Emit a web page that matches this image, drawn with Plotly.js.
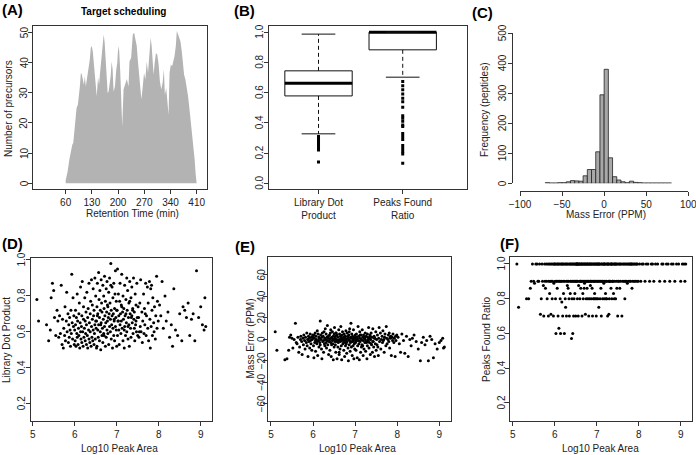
<!DOCTYPE html>
<html><head><meta charset="utf-8">
<script src="https://cdn.plot.ly/plotly-3.0.1.min.js"></script>
<style>html,body{margin:0;padding:0;background:#fff}#chart{width:696px;height:455px}</style>
</head><body><div id="chart"></div>
<script>
// ---------- (A) Target scheduling ----------
const rtMin = [60,62.6,65.2,69.6,73.2,77.6,80.2,82.9,86.4,89.1,92.6,95.3,97.9,100.6,103.2,105.9,108.5,111.2,113.8,117.4,120.9,124.4,127.1,129.7,132.4,135,137.7,140.3,143,146.5,149.2,151.8,154.5,157.1,159.8,161.6,164.2,166.9,169.5,172.2,174.8,177.5,180.1,182.8,185.4,188.1,191.6,195.2,197.8,200.5,203.1,205.8,208.4,211.1,214.6,219,223.4,227.9,230.5,234.9,239.3,242.9,246.4,249.9,252.6,255.3,258.8,262.3,265.9,269.4,272.9,276.5,280,283.5,287.1,289.7,292.4,295,297.7,301.2,304.8,308.3,311.8,315.4,318.9,322.4,325.1,328.6,332.2,334.8,337.5,341,344.5,347.2,350.7,354.3,356.9,360.5,363.1,366.6,370.2,372.8,376.4,379.9,383.4,387,390.5,394,397.6,401.1,404.7,407.3,410];
const precursors = [1,2.2,3.9,7.7,10.5,12.7,13.3,16.6,19.9,24.9,26,28.8,32,36.5,36,34.3,32.6,35.4,32,35,37.6,40.9,44.8,45.4,43.7,39.8,37,32.6,28.8,35,32.6,36.5,40.3,43.7,47.6,49.2,46.5,39.8,32,29.9,30.4,33.2,35.4,40.3,37.6,30.4,32,37.6,39.8,45.4,43.7,37,29.9,18.8,31,32.6,34.5,32,40.3,41.5,49.2,49.8,47.6,45.4,41,37.6,33.2,27.7,32,36.5,34.3,40.3,36.5,42,48.2,45.4,37.6,35.9,39.8,43.1,42.5,39.3,33.7,31,33.2,37.6,29.3,31.5,26.5,22.7,36.5,39.3,38.7,40.3,42,45.4,50.4,49.2,48.2,47,43.7,39.8,35.9,34.3,32,28.8,24.9,21,16.6,12.7,7.7,3,0];
const rtTicks = [60,130,200,270,340,410];
const countTicksA = [0,10,20,30,40,50];

// ---------- (B) Boxplots ----------
const boxNames = ["Library Dot<br>Product","Peaks Found<br>Ratio"];
const boxPos = [1,2];
const boxQ1 = [0.578,0.883];
const boxMed = [0.662,1.0];
const boxQ3 = [0.744,1.0];
const boxLo = [0.327,0.702];
const boxHi = [0.987,1.0];
const outLibrary = [0.31,0.30,0.29,0.28,0.27,0.26,0.25,0.24,0.23,0.22,0.14];
const outPeaks = [0.673,0.645,0.618,0.59,0.563,0.54,0.503,0.446,0.43,0.41,0.386,0.375,0.33,0.31,0.29,0.25,0.23,0.21,0.194,0.132];
const ratioTicksB = [0,0.2,0.4,0.6,0.8,1];

// ---------- (C) Mass error histogram ----------
const binLeft = [-70,-65,-60,-55,-50,-45,-40,-35,-30,-25,-20,-15,-10,-5,0,5,10,15,20,25,30,35,40,45,50,55,60,65,70,75];
const binCount = [2,1,1,2,2,5,9,8,7,25,46,46,105,295,380,85,22,11,5,2,7,3,2,1,1,1,1,1,1,1];
const ppmTicksC = [-100,-50,0,50,100];
const freqTicksC = [0,100,200,300,400,500];

// ---------- (D)(E)(F) per-peptide values ----------
const areaTicks = [5,6,7,8,9];
const dotTicks = [0.2,0.4,0.6,0.8,1];
const errTicks = [-60,-40,-20,0,20,40,60];
const ratioTicksF = [0.2,0.4,0.6,0.8,1];
const logArea = [
5.10,5.14,5.33,5.38,5.42,5.44,5.47,5.50,5.52,5.55,5.58,5.60,
5.62,5.64,5.66,5.68,5.70,5.71,5.73,5.74,5.76,5.77,
5.78,5.80,5.81,5.82,5.84,5.85,5.86,5.87,5.88,5.89,
5.90,5.91,5.92,5.93,5.94,5.95,5.96,5.97,5.98,5.99,
6.00,6.01,6.02,6.02,6.03,6.04,6.05,6.06,6.06,6.07,
6.08,6.09,6.10,6.10,6.11,6.12,6.13,6.14,6.14,6.15,
6.16,6.17,6.17,6.18,6.19,6.20,6.21,6.21,6.22,6.23,
6.24,6.25,6.25,6.26,6.27,6.28,6.28,6.29,6.30,6.31,
6.31,6.32,6.33,6.34,6.34,6.35,6.36,6.37,6.37,6.38,
6.39,6.40,6.40,6.41,6.42,6.42,6.43,6.44,6.44,6.45,
6.46,6.46,6.47,6.48,6.48,6.49,6.50,6.50,6.51,6.52,
6.52,6.53,6.53,6.54,6.55,6.55,6.56,6.57,6.57,6.58,
6.59,6.59,6.60,6.61,6.61,6.62,6.63,6.63,6.64,6.65,
6.65,6.66,6.67,6.67,6.68,6.69,6.69,6.70,6.71,6.71,
6.72,6.73,6.73,6.74,6.75,6.75,6.76,6.77,6.77,6.78,
6.79,6.79,6.80,6.81,6.81,6.82,6.83,6.83,6.84,6.85,
6.85,6.86,6.87,6.87,6.88,6.89,6.89,6.90,6.91,6.91,
6.92,6.93,6.93,6.94,6.95,6.95,6.96,6.97,6.97,6.98,
6.99,6.99,7.00,7.00,6.54,6.62,6.70,6.78,6.86,6.94,
7.01,7.02,7.02,7.03,7.04,7.05,7.05,7.06,7.07,7.08,
7.08,7.09,7.10,7.11,7.11,7.12,7.13,7.14,7.15,7.15,
7.16,7.17,7.18,7.19,7.19,7.20,7.21,7.22,7.23,7.24,
7.24,7.25,7.26,7.27,7.28,7.29,7.29,7.30,7.31,7.32,
7.33,7.34,7.34,7.35,7.36,7.37,7.38,7.39,7.40,7.41,
7.42,7.43,7.44,7.45,7.46,7.47,7.48,7.49,7.50,7.51,
7.04,7.12,7.18,7.22,7.27,7.31,7.36,7.42,7.46,7.38,
7.52,7.53,7.55,7.56,7.57,7.58,7.60,7.61,7.62,7.64,
7.65,7.66,7.67,7.69,7.70,7.71,7.73,7.74,7.75,7.76,
7.78,7.79,7.80,7.81,7.82,7.84,7.85,7.86,7.88,7.89,
7.90,7.92,7.93,7.95,7.96,7.97,7.99,7.54,7.68,7.83,
8.02,8.05,8.08,8.11,8.15,8.18,8.22,8.26,8.30,8.33,
8.36,8.40,8.45,8.50,8.55,8.58,8.62,8.66,8.70,8.74,
8.78,8.82,8.86,8.90,8.95,9.00,9.04,9.08,9.10,9.12];
const dotProduct = [
0.78,0.66,0.64,0.55,0.61,0.79,0.87,0.83,0.68,0.58,0.72,0.66,
0.57,0.69,0.59,0.86,0.53,0.67,0.51,0.62,0.58,0.74,
0.55,0.66,0.82,0.60,0.70,0.54,0.64,0.57,0.68,0.61,
0.52,0.72,0.59,0.92,0.65,0.56,0.79,0.63,0.69,0.53,
0.61,0.55,0.72,0.64,0.52,0.68,0.59,0.81,0.57,0.66,
0.53,0.62,0.70,0.58,0.76,0.51,0.65,0.60,0.85,0.56,
0.63,0.54,0.69,0.88,0.60,0.52,0.67,0.74,0.57,0.62,
0.79,0.55,0.66,0.59,0.71,0.53,0.64,0.82,0.58,0.68,
0.51,0.73,0.61,0.56,0.87,0.65,0.54,0.70,0.60,0.77,
0.52,0.63,0.89,0.57,0.67,0.75,0.55,0.61,0.84,0.69,
0.53,0.72,0.59,0.64,0.90,0.56,0.66,0.80,0.62,0.51,
0.66,0.74,0.52,0.87,0.61,0.70,0.57,0.93,0.64,0.78,
0.55,0.68,0.83,0.60,0.72,0.50,0.89,0.65,0.76,0.58,
0.71,0.62,0.86,0.54,0.67,0.80,0.59,0.73,0.91,0.63,
0.69,0.52,0.77,0.65,0.84,0.57,0.71,0.61,0.88,0.66,
0.74,0.59,0.68,0.82,0.53,0.70,0.63,0.90,0.76,0.60,
0.67,0.98,0.56,0.72,0.64,0.85,0.69,0.51,0.79,0.62,
0.70,0.58,0.87,0.66,0.73,0.55,0.81,0.63,0.94,0.68,
0.61,0.77,0.52,0.72,0.69,0.64,0.58,0.75,0.86,0.67,
0.72,0.58,0.95,0.66,0.81,0.61,0.69,0.53,0.77,0.64,
0.87,0.70,0.59,0.75,0.66,0.92,0.62,0.71,0.55,0.80,
0.67,0.73,0.51,0.86,0.63,0.69,0.58,0.78,0.65,0.90,
0.60,0.72,0.83,0.56,0.68,0.64,0.76,0.52,0.88,0.70,
0.62,0.79,0.57,0.68,0.85,0.65,0.73,0.59,0.90,0.67,
0.71,0.55,0.81,0.64,0.75,0.60,0.87,0.68,0.58,0.74,
0.66,0.74,0.61,0.70,0.63,0.77,0.69,0.62,0.66,0.72,
0.68,0.57,0.76,0.63,0.89,0.60,0.71,0.54,0.66,0.81,
0.59,0.73,0.64,0.87,0.58,0.69,0.85,0.62,0.76,0.55,
0.88,0.67,0.51,0.84,0.63,0.72,0.58,0.79,0.65,0.60,
0.74,0.56,0.69,0.91,0.62,0.77,0.66,0.60,0.70,0.86,
0.75,0.69,0.88,0.62,0.80,0.66,0.71,0.57,0.64,0.52,
0.84,0.61,0.58,0.70,0.55,0.74,0.72,0.68,0.76,0.58,
0.67,0.70,0.55,0.94,0.68,0.74,0.64,0.61,0.79,0.63];
const massErrorPpm = [
7,-10,-19,-18,-10,2,4,1,-8,0,15,-3,
-4,2,-12,-7,0,3,-2,-14,1,-5,
4,-1,-9,2,-3,6,-6,0,-16,3,
-2,1,-8,5,-1,-4,2,-10,0,4,
2,-6,4,-17,1,-3,6,-1,-11,3,
0,-4,8,-2,-15,5,-1,2,-7,1,
-3,17,-5,4,0,-9,2,-18,6,-2,
3,-1,-12,7,-4,1,-6,10,0,-3,
5,-8,2,-1,13,-5,3,-14,1,-2,
4,-10,0,6,-3,9,-16,2,-5,1,
-1,7,-4,3,-19,0,5,-7,11,-2,
1,-5,3,-12,0,6,-2,-18,4,-1,
-7,2,-3,9,-1,-14,5,0,-9,3,
-2,12,-6,1,-19,4,-1,7,-4,0,
2,-10,-3,5,-1,-16,3,-6,1,8,
-4,0,-13,6,-2,3,-8,1,-20,4,
0,-5,10,-1,-11,2,-3,15,-7,1,
5,-2,-15,3,-6,0,9,-18,2,-4,
1,-9,4,-1,6,-12,0,-3,7,-2,
-3,2,-10,5,0,-17,1,-6,12,-1,
3,-4,-19,1,7,-2,-12,4,-7,0,
-5,9,2,-15,-1,4,-9,1,-3,6,
0,-11,3,-2,-18,5,-6,2,-1,11,
-8,1,-3,4,-14,0,6,-5,2,-12,
10,-2,-7,3,-16,1,-4,7,-10,0,
-1,4,-6,2,-3,0,3,-2,1,-4,
-5,4,-15,1,11,-2,6,-9,0,3,
-3,8,-1,-12,2,5,-6,12,1,-4,
0,4,-2,6,-8,1,3,-15,2,-1,
5,-3,1,-16,3,-1,4,-7,0,2,
2,-4,-12,5,-1,-13,3,-16,0,-6,
1,4,-2,-9,-20,-3,2,-5,-1,-20,
3,0,-17,-4,-9,-3,-1,1,-8,-7];
const peaksFound = [
1,0.75,0.8,0.8,0.86,0.9,1,0.9,0.889,1,1,0.9,
0.9,1,0.71,0.8,1,0.9,0.875,0.7,1,0.9,
0.86,1,0.9,0.8,1,0.7,0.9,1,0.83,0.9,
1,0.71,0.9,1,0.8,0.9,1,0.7,0.889,1,
1,0.9,0.8,1,0.6,0.9,1,0.86,0.9,1,
0.7,1,0.9,0.63,1,0.9,0.8,1,0.6,0.9,
1,0.78,0.9,1,0.7,1,0.9,0.83,1,0.6,
0.9,1,0.8,0.75,1,0.9,0.7,1,0.875,0.9,
1,0.86,0.9,1,0.8,0.7,1,0.9,0.83,1,
0.9,1,0.57,0.8,1,0.9,0.6,1,0.9,0.7,
1,0.8,0.9,1,0.83,0.9,1,0.7,0.9,1,
1,0.9,1,0.8,1,0.9,0.7,1,0.875,1,
0.9,1,0.8,1,0.9,0.86,1,0.9,1,0.7,
1,0.9,0.83,1,0.8,1,0.9,1,0.889,0.9,
1,0.71,1,0.9,0.8,1,0.9,0.86,1,0.9,
1,0.8,0.9,1,0.7,0.9,1,0.8,1,0.875,
0.9,1,0.8,1,0.9,0.86,1,0.7,0.9,1,
0.8,1,0.9,1,0.83,0.9,1,0.8,0.9,1,
0.7,1,0.9,0.8,1,0.9,0.86,1,0.9,0.8,
1,0.9,1,0.8,0.9,1,0.75,1,0.9,0.8,
1,0.9,0.86,1,0.7,1,0.9,0.8,1,0.9,
1,0.889,0.8,1,0.9,1,0.83,0.9,1,0.8,
0.9,1,0.7,1,0.9,0.71,1,0.8,0.9,1,
0.9,1,0.86,1,0.8,0.9,1,0.9,0.83,1,
1,0.9,1,0.8,1,0.9,0.86,1,0.7,0.9,
1,0.9,1,0.8,1,0.9,1,0.8,1,0.9,
1,0.9,0.86,1,0.9,1,0.7,1,0.9,1,
0.9,1,0.8,1,0.9,1,0.889,1,0.9,1,
1,0.9,1,0.9,1,0.86,1,0.9,1,0.9,
1,0.9,1,1,0.9,1,0.9,1,0.9,1,
1,0.9,1,1,0.9,1,1,0.9,1,1,
0.9,1,1,0.9,1,1,0.9,1,1,0.9,
1,1,0.9,1,1,0.9,1,1,0.9,1];

// ---------- layout helpers (pixel -> paper) ----------
const W = 696, H = 455;
const fx = v => v / W;
const fy = v => 1 - v / H;
const FONT = "Liberation Sans, Arial, Helvetica, sans-serif";
const INK = "#222";

function axis(o) {
  return Object.assign({
    showgrid: false, zeroline: false, showline: true, linecolor: "#333", linewidth: 1,
    mirror: true, ticks: "outside", ticklen: 4, tickwidth: 1, tickcolor: "#333",
    tickfont: {family: FONT, size: 10, color: INK}, fixedrange: true, ticklabeloverflow: "allow"
  }, o);
}
// y axes: ticks from the library, R-style rotated labels placed as annotations below
function yaxisR(o) { return axis(Object.assign({showticklabels: false}, o)); }

const traces = [];

// (A)
traces.push({type: "scatter", mode: "lines", x: rtMin, y: precursors, fill: "tozeroy",
  fillcolor: "#b3b3b3", line: {width: 0, color: "#b3b3b3"}, xaxis: "x", yaxis: "y", hoverinfo: "skip"});

// (B) R-style boxplots built from the summary arrays
const BH = 0.4, CH = 0.2;
boxPos.forEach((c, i) => {
  traces.push({type: "scatter", mode: "lines", xaxis: "x2", yaxis: "y2",
    x: [c - BH, c + BH, c + BH, c - BH, c - BH], y: [boxQ1[i], boxQ1[i], boxQ3[i], boxQ3[i], boxQ1[i]],
    fill: "toself", fillcolor: "#fff", line: {color: "#111", width: 1}, hoverinfo: "skip"});
  traces.push({type: "scatter", mode: "lines", xaxis: "x2", yaxis: "y2",
    x: [c - BH, c + BH], y: [boxMed[i], boxMed[i]], line: {color: "#000", width: 3}, hoverinfo: "skip"});
  traces.push({type: "scatter", mode: "lines", xaxis: "x2", yaxis: "y2",
    x: [c, c, null, c, c], y: [boxQ3[i], boxHi[i], null, boxQ1[i], boxLo[i]],
    line: {color: "#111", width: 1, dash: "4px,3px"}, hoverinfo: "skip"});
  traces.push({type: "scatter", mode: "lines", xaxis: "x2", yaxis: "y2",
    x: [c - CH, c + CH, null, c - CH, c + CH], y: [boxHi[i], boxHi[i], null, boxLo[i], boxLo[i]],
    line: {color: "#111", width: 1}, hoverinfo: "skip"});
});
traces.push({type: "scatter", mode: "markers", xaxis: "x2", yaxis: "y2",
  x: outLibrary.map(() => boxPos[0]).concat(outPeaks.map(() => boxPos[1])),
  y: outLibrary.concat(outPeaks), marker: {color: "#000", size: 3, symbol: "square"}, hoverinfo: "skip"});

// (C)
traces.push({type: "bar", xaxis: "x3", yaxis: "y3", x: binLeft.map(b => b + 2.5), y: binCount, width: 5,
  marker: {color: "#a8a8a8", line: {color: "#222", width: 0.8}}, hoverinfo: "skip"});

// (D)(E)(F)
const mk = {color: "#000", size: 3};
traces.push({type: "scatter", mode: "markers", xaxis: "x4", yaxis: "y4", x: logArea, y: dotProduct, marker: mk, hoverinfo: "skip"});
traces.push({type: "scatter", mode: "markers", xaxis: "x5", yaxis: "y5", x: logArea, y: massErrorPpm, marker: mk, hoverinfo: "skip"});
traces.push({type: "scatter", mode: "markers", xaxis: "x6", yaxis: "y6", x: logArea, y: peaksFound, marker: mk, hoverinfo: "skip"});

const layout = {
  width: W, height: H, margin: {l: 0, r: 0, t: 0, b: 0}, showlegend: false,
  paper_bgcolor: "#fff", plot_bgcolor: "#fff", font: {family: FONT, size: 10, color: INK},
  // A
  xaxis: axis({domain: [fx(33.3), fx(207.3)], range: [-26.5, 438.4], tickvals: rtTicks, anchor: "y"}),
  yaxis: yaxisR({domain: [fy(189.3), fy(25.5)], range: [-2, 52.2], tickvals: countTicksA, anchor: "x"}),
  // B
  xaxis2: axis({domain: [fx(269), fx(467.3)], range: [0.412, 2.767], tickvals: boxPos, ticktext: boxNames, anchor: "y2"}),
  yaxis2: yaxisR({domain: [fy(189.3), fy(25.5)], range: [-0.04, 1.044], tickvals: ratioTicksB, anchor: "x2"}),
  // C
  xaxis3: axis({domain: [fx(520), fx(688.3)], range: [-100, 100], tickvals: ppmTicksC, anchor: "free", position: fy(190.7), mirror: false}),
  yaxis3: yaxisR({domain: [fy(183.3), fy(33.3)], range: [0, 500], tickvals: freqTicksC, anchor: "free", position: fx(511.7), mirror: false}),
  // D
  xaxis4: axis({domain: [fx(31), fx(212.3)], range: [4.96, 9.276], tickvals: areaTicks, anchor: "y4"}),
  yaxis4: yaxisR({domain: [fy(421.3), fy(258.3)], range: [0.1017, 1.0094], tickvals: dotTicks, anchor: "x4"}),
  // E
  xaxis5: axis({domain: [fx(268.3), fx(450.7)], range: [4.936, 9.271], tickvals: areaTicks, anchor: "y5"}),
  yaxis5: yaxisR({domain: [fy(420.5), fy(257.3)], range: [-75.5, 76.4], tickvals: errTicks, anchor: "x5"}),
  // F
  xaxis6: axis({domain: [fx(510), fx(692.3)], range: [4.936, 9.276], tickvals: areaTicks, anchor: "y6"}),
  yaxis6: yaxisR({domain: [fy(421.3), fy(257.3)], range: [0.094, 1.038], tickvals: ratioTicksF, anchor: "x6"}),
  annotations: []
};

function note(text, x, y, opt) {
  layout.annotations.push(Object.assign({text: text, x: fx(x), y: fy(y), xref: "paper", yref: "paper",
    showarrow: false, xanchor: "center", yanchor: "middle", font: {family: FONT, size: 10, color: INK}}, opt || {}));
}
// rotated y tick labels, positioned on the axis' own data scale
function yLabels(yref, vals, fmt, xPx) {
  vals.forEach(v => layout.annotations.push({text: fmt(v), xref: "paper", x: fx(xPx), yref: yref, y: v,
    showarrow: false, xanchor: "center", yanchor: "middle", textangle: -90,
    font: {family: FONT, size: 10, color: INK}}));
}
const f0 = v => String(v).replace("-", "\u2212");
const f1 = v => v.toFixed(1);
yLabels("y", countTicksA, f0, 24);
yLabels("y2", ratioTicksB, f1, 259.5);
yLabels("y3", freqTicksC, f0, 502);
yLabels("y4", dotTicks, f1, 21.5);
yLabels("y5", errTicks, f0, 261.5);
yLabels("y6", ratioTicksF, f1, 501.5);

const lab = {font: {family: FONT, size: 15, color: "#000"}};
note("<b>(A)</b>", 12, 9, lab);
note("<b>(B)</b>", 244, 10.5, lab);
note("<b>(C)</b>", 482, 12, lab);
note("<b>(D)</b>", 12, 243.5, lab);
note("<b>(E)</b>", 244.5, 246.5, lab);
note("<b>(F)</b>", 509, 243.5, lab);
note("<b>Target scheduling</b>", 123.7, 11.5, {font: {family: FONT, size: 10, color: "#000"}});
note("Number of precursors", 8, 109, {textangle: -90});
note("Retention Time (min)", 132, 213.5);
note("Frequency (peptides)", 484, 110, {textangle: -90});
note("Mass Error (PPM)", 606, 214.5);
note("Library Dot Product", 6, 340, {textangle: -90});
note("Log10 Peak Area", 119, 448);
note("Mass Error (PPM)", 249.5, 339, {textangle: -90});
note("Log10 Peak Area", 357.5, 448);
note("Peaks Found Ratio", 486, 340, {textangle: -90});
note("Log10 Peak Area", 600, 448);

Plotly.newPlot("chart", traces, layout, {staticPlot: true, displayModeBar: false});
</script></body></html>
